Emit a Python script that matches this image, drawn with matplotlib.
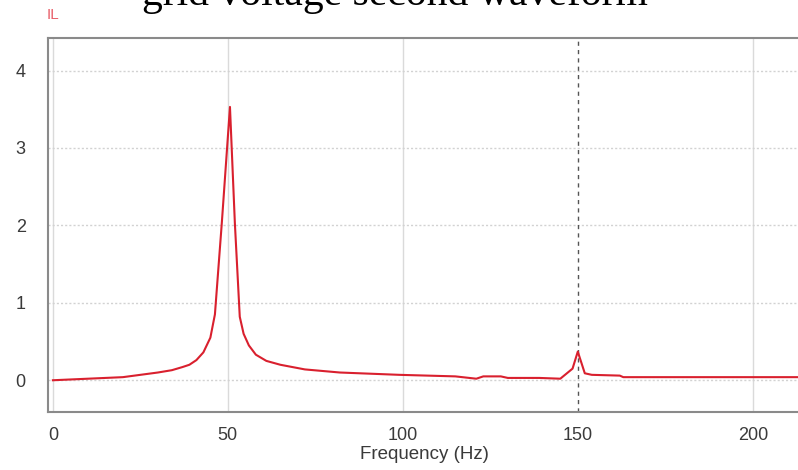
import matplotlib
matplotlib.use("Agg")
import matplotlib.pyplot as plt

# Data
freq = [0, 5, 10, 15, 20, 25, 30, 34, 37, 39, 41, 43, 45, 46.3, 48.3, 50.6,
        52, 53.4, 54.5, 56, 58, 61, 65, 72, 82, 99, 115, 119, 121, 123, 128,
        130, 139, 145, 148.5, 150, 152, 154, 162, 163, 213]
il = [0.0, 0.01, 0.02, 0.03, 0.04, 0.07, 0.10, 0.13, 0.17, 0.20, 0.26, 0.36,
      0.55, 0.85, 2.05, 3.53, 2.03, 0.82, 0.60, 0.45, 0.33, 0.25, 0.20, 0.14,
      0.10, 0.07, 0.05, 0.03, 0.02, 0.05, 0.05, 0.03, 0.03, 0.02, 0.15, 0.37,
      0.09, 0.07, 0.06, 0.04, 0.04]
xticks = [0, 50, 100, 150, 200]
yticks = [0, 1, 2, 3, 4]
cursor_x = 150

fig = plt.figure(figsize=(7.98, 4.70), dpi=100)
ax = fig.add_axes([48/798, 58/470, 752/798, 374/470])

ax.set_xlim(-1.4, 213.5)
ax.set_ylim(-0.41, 4.42)

for xv in xticks:
    if xv == cursor_x:
        continue
    ax.axvline(xv, color="#dadada", lw=1.0, zorder=0)
for yv in yticks:
    ax.axhline(yv, color="#d2d2d2", lw=1.0, ls=(0, (1.5, 1.5)), zorder=0)
ax.axvline(cursor_x, color="#555555", lw=1.0, ls=(0, (3, 3)), zorder=1,
           clip_on=False)

ax.plot(freq, il, color="#d9202e", lw=1.5, zorder=3)

ax.set_xticks(xticks)
ax.set_yticks(yticks)
ax.tick_params(length=0, labelsize=13, labelcolor="#3a3a3a")
ax.tick_params(axis="x", pad=11)
ax.tick_params(axis="y", pad=16)
for s in ["left", "bottom", "top"]:
    ax.spines[s].set_color("#8a8a8a")
    ax.spines[s].set_linewidth(1.5)
ax.spines["right"].set_visible(False)

for lab in ax.get_xticklabels() + ax.get_yticklabels():
    lab.set_family("Liberation Sans")

ax.set_xlabel("Frequency (Hz)", fontsize=13.5, color="#3a3a3a",
              family="Liberation Sans", labelpad=1)

fig.text(47/798, 1 - 15/470, "IL", color="#e8606a", fontsize=11,
         family="Liberation Sans", va="center", ha="left")

fig.text(395/798, 1 - 5/470, "grid voltage second waveform",
         family="Liberation Serif", fontsize=30, color="black",
         ha="center", va="baseline")

fig.savefig("out.png", dpi=100)
